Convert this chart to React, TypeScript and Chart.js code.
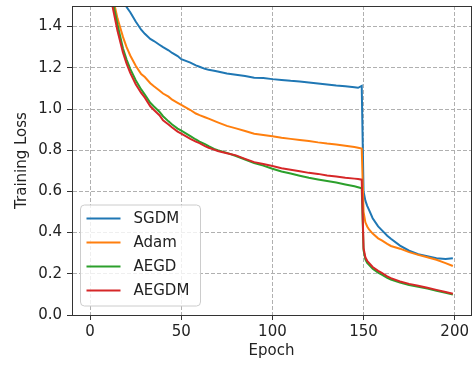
import React, { useEffect, useRef } from "react";
import { Chart, registerables } from "chart.js";

Chart.register(...registerables);

const seriesLabels = ["SGDM", "Adam", "AEGD", "AEGDM"];
const seriesColors = ["#1f77b4", "#ff7f0e", "#2ca02c", "#d62728"];

const epochs = [0, 3, 6, 9, 12, 15, 18, 20, 22, 25, 28, 30, 33, 35, 38, 40, 43, 45, 48, 50, 55, 58, 60, 63, 65, 68, 70, 75, 80, 85, 90, 95, 100, 105, 110, 115, 120, 125, 130, 135, 140, 145, 147, 149, 150, 151, 152, 153, 155, 158, 160, 163, 165, 170, 175, 180, 185, 190, 195, 199];

const sgdm = [2.5, 2.2, 2.0, 1.86, 1.76, 1.64, 1.55, 1.495, 1.47, 1.425, 1.385, 1.365, 1.34, 1.33, 1.312, 1.3, 1.285, 1.272, 1.257, 1.242, 1.225, 1.212, 1.205, 1.195, 1.19, 1.186, 1.182, 1.172, 1.166, 1.16, 1.152, 1.15, 1.145, 1.141, 1.137, 1.134, 1.129, 1.124, 1.119, 1.114, 1.11, 1.106, 1.103, 1.112, 0.6, 0.555, 0.53, 0.51, 0.47, 0.43, 0.412, 0.385, 0.37, 0.337, 0.312, 0.295, 0.285, 0.276, 0.272, 0.276];

const adam = [2.4, 2.1, 1.88, 1.7, 1.56, 1.44, 1.35, 1.3, 1.26, 1.21, 1.17, 1.155, 1.125, 1.11, 1.09, 1.075, 1.06, 1.045, 1.03, 1.02, 0.995, 0.978, 0.97, 0.96, 0.953, 0.942, 0.935, 0.918, 0.906, 0.893, 0.88, 0.874, 0.868, 0.86, 0.855, 0.85, 0.845, 0.838, 0.832, 0.828, 0.822, 0.815, 0.812, 0.808, 0.5, 0.45, 0.43, 0.415, 0.395, 0.372, 0.362, 0.345, 0.335, 0.322, 0.305, 0.292, 0.28, 0.268, 0.252, 0.238];

const aegd = [2.3, 2.02, 1.83, 1.67, 1.54, 1.41, 1.295, 1.24, 1.195, 1.14, 1.095, 1.07, 1.03, 1.012, 0.987, 0.965, 0.94, 0.925, 0.905, 0.895, 0.868, 0.852, 0.842, 0.83, 0.82, 0.806, 0.8, 0.787, 0.772, 0.755, 0.738, 0.725, 0.71, 0.697, 0.687, 0.676, 0.666, 0.658, 0.65, 0.643, 0.634, 0.625, 0.62, 0.615, 0.315, 0.27, 0.253, 0.243, 0.224, 0.206, 0.196, 0.18, 0.172, 0.157, 0.145, 0.137, 0.128, 0.118, 0.108, 0.1];

const aegdm = [2.25, 1.98, 1.79, 1.63, 1.51, 1.38, 1.275, 1.22, 1.175, 1.12, 1.078, 1.055, 1.013, 0.995, 0.97, 0.945, 0.925, 0.91, 0.89, 0.88, 0.855, 0.842, 0.834, 0.82, 0.812, 0.803, 0.796, 0.785, 0.775, 0.758, 0.742, 0.733, 0.723, 0.712, 0.705, 0.698, 0.69, 0.685, 0.677, 0.672, 0.666, 0.662, 0.66, 0.657, 0.325, 0.28, 0.263, 0.253, 0.233, 0.214, 0.204, 0.188, 0.179, 0.163, 0.151, 0.142, 0.132, 0.122, 0.112, 0.103];

const seriesValues = [sgdm, adam, aegd, aegdm];

const xTickValues = [0, 50, 100, 150, 200];
const yTickValues = [0, 0.2, 0.4, 0.6, 0.8, 1.0, 1.2, 1.4];
const xTitle = "Epoch";
const yTitle = "Training Loss";

const FONT = "'DejaVu Sans', sans-serif";
const TEXT = "#222222";

const framePlugin = {
  id: "frameAndLegend",
  afterDraw(chart: any) {
    const { ctx, chartArea } = chart;
    const { left, top, right, bottom } = chartArea;
    ctx.save();
    ctx.strokeStyle = "#333333";
    ctx.lineWidth = 1;
    ctx.setLineDash([]);
    ctx.strokeRect(Math.round(left) + 0.5, Math.round(top) + 0.5, Math.round(right - left), Math.round(bottom - top));

    const bx = left + 8.5;
    const by = top + 199;
    const bw = 120;
    const bh = 101;
    const r = 4;
    ctx.beginPath();
    ctx.moveTo(bx + r, by);
    ctx.lineTo(bx + bw - r, by);
    ctx.arcTo(bx + bw, by, bx + bw, by + r, r);
    ctx.lineTo(bx + bw, by + bh - r);
    ctx.arcTo(bx + bw, by + bh, bx + bw - r, by + bh, r);
    ctx.lineTo(bx + r, by + bh);
    ctx.arcTo(bx, by + bh, bx, by + bh - r, r);
    ctx.lineTo(bx, by + r);
    ctx.arcTo(bx, by, bx + r, by, r);
    ctx.closePath();
    ctx.fillStyle = "rgba(255,255,255,0.8)";
    ctx.fill();
    ctx.strokeStyle = "#cccccc";
    ctx.lineWidth = 1;
    ctx.stroke();

    ctx.font = `15px ${FONT}`;
    ctx.textBaseline = "middle";
    ctx.textAlign = "left";
    seriesLabels.forEach((label, i) => {
      const y = by + 13.5 + i * 24;
      ctx.strokeStyle = seriesColors[i];
      ctx.lineWidth = 2;
      ctx.beginPath();
      ctx.moveTo(bx + 6, y);
      ctx.lineTo(bx + 40, y);
      ctx.stroke();
      ctx.fillStyle = TEXT;
      ctx.fillText(label, bx + 53, y + 1);
    });
    ctx.restore();
  },
};

export default function App() {
  const canvasRef = useRef<HTMLCanvasElement | null>(null);

  useEffect(() => {
    if (!canvasRef.current) return;
    Chart.defaults.font.family = FONT;
    Chart.defaults.font.size = 15;
    Chart.defaults.color = TEXT;

    const datasets = seriesLabels.map((label, i) => ({
      label,
      data: epochs.map((e, j) => ({ x: e, y: seriesValues[i][j] })),
      borderColor: seriesColors[i],
      backgroundColor: seriesColors[i],
      borderWidth: 2,
      pointRadius: 0,
      tension: 0,
      fill: false,
      order: 3 - i,
    }));

    const gridOpts = {
      color: "#b0b0b0",
      lineWidth: 1,
      drawTicks: true,
      tickLength: 5,
      tickColor: "#333333",
      tickBorderDash: [],
    };

    const chart = new Chart(canvasRef.current, {
      type: "line",
      data: { datasets },
      options: {
        animation: false,
        responsive: false,
        devicePixelRatio: 1,
        layout: { padding: { left: 0, top: 6, right: 3, bottom: 0 } },
        plugins: {
          legend: { display: false },
          tooltip: { enabled: false },
        },
        scales: {
          x: {
            type: "linear",
            min: -9.95,
            max: 208.95,
            afterBuildTicks: (scale: any) => {
              scale.ticks = xTickValues.map((v) => ({ value: v }));
            },
            afterFit: (scale: any) => {
              scale.height = 52;
              scale.paddingLeft = 0;
              scale.paddingRight = 0;
            },
            ticks: {
              padding: 3,
              color: TEXT,
              font: { size: 15, family: FONT },
              maxRotation: 0,
              callback: (v: any) => String(v),
            },
            grid: gridOpts,
            border: { display: true, color: "#333333", width: 1, dash: [4, 2] },
            title: {
              display: true,
              text: xTitle,
              color: TEXT,
              font: { size: 15, family: FONT },
              padding: { top: 0, bottom: 7 },
            },
          },
          y: {
            type: "linear",
            min: 0,
            max: 1.5,
            afterBuildTicks: (scale: any) => {
              scale.ticks = yTickValues.map((v) => ({ value: v }));
            },
            afterFit: (scale: any) => {
              scale.width = 72;
              scale.paddingTop = 0;
              scale.paddingBottom = 0;
            },
            ticks: {
              padding: 5,
              color: TEXT,
              font: { size: 15, family: FONT },
              callback: (v: any) => Number(v).toFixed(1),
            },
            grid: gridOpts,
            border: { display: true, color: "#333333", width: 1, dash: [4, 2] },
            title: {
              display: true,
              text: yTitle,
              color: TEXT,
              font: { size: 15, family: FONT },
              padding: { top: 13, bottom: 0 },
            },
          },
        },
      },
      plugins: [framePlugin],
    } as any);

    return () => chart.destroy();
  }, []);

  return (
    <div style={{ position: "fixed", left: 0, top: 0, width: 474, height: 367, background: "#ffffff" }}>
      <canvas ref={canvasRef} width={474} height={367} style={{ display: "block", width: 474, height: 367 }} />
    </div>
  );
}
